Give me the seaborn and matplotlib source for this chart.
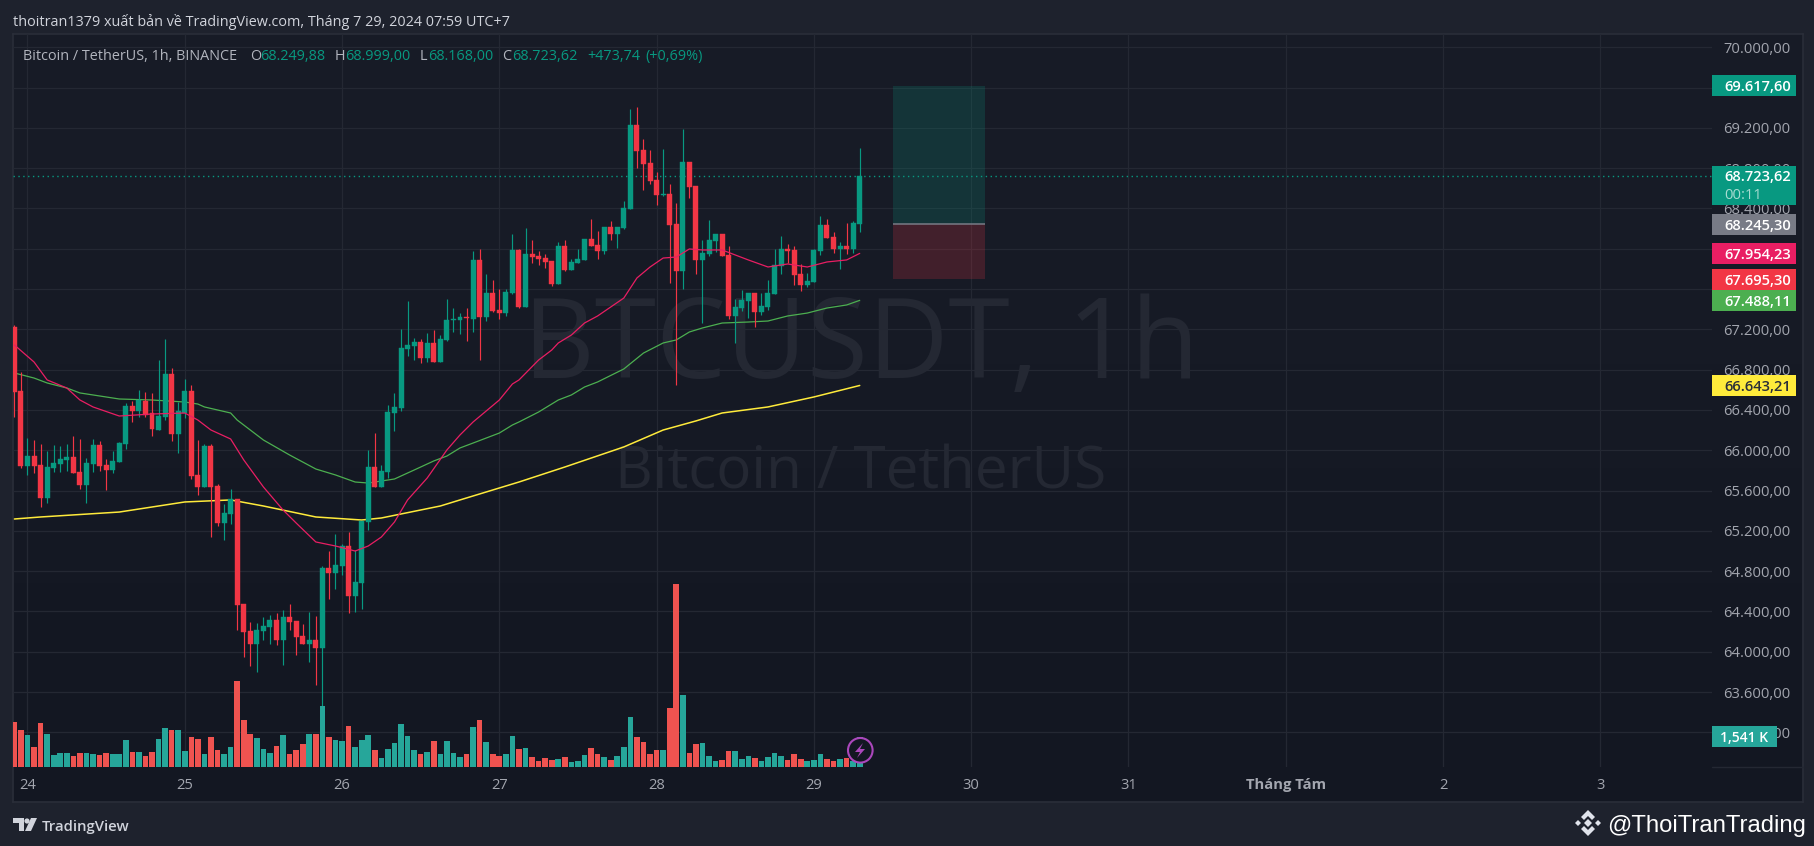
import numpy as np
import pandas as pd
import matplotlib
matplotlib.use("Agg")
import matplotlib.pyplot as plt
import seaborn as sns
from matplotlib.patches import Circle, Polygon, Rectangle
from matplotlib.transforms import Affine2D

# hours counted from 24 July 00:00
HOURS = list(range(-2, 128))

OPEN = [67224, 66588, 65844, 65943, 65854, 65526, 65824, 65864, 65903, 65933,
        65784, 65655, 65864, 66052, 65854, 65804, 65884, 66062, 66439, 66390,
        66489, 66370, 66201, 66330, 66757, 66161, 66370, 66588, 65755, 65636,
        66042, 65646, 65278, 65368, 65517, 64474, 64206, 64077, 64206, 64246,
        64316, 64117, 64345, 64306, 64157, 64077, 64117, 64038, 64831, 64782,
        64851, 65050, 64554, 64683, 65288, 65834, 65636, 65784, 66370, 66420,
        67005, 67035, 67075, 66916, 67065, 66876, 67095, 67293, 67293, 67323,
        67303, 67888, 67323, 67561, 67392, 67362, 67561, 67988, 67422, 67948,
        67928, 67908, 67879, 67650, 68027, 67789, 67859, 67888, 68097, 68037,
        67978, 68216, 68147, 68206, 68395, 69228, 68980, 68851, 68683, 68534,
        68544, 68246, 67779, 68861, 68623, 67888, 67948, 68077, 68147, 67938,
        67333, 67412, 67482, 67561, 67372, 67422, 67551, 67829, 67998, 67988,
        67750, 67640, 67670, 67978, 68236, 68117, 67998, 68027, 67998, 68249.88]
HIGH = [67243, 66777, 66122, 66102, 66062, 65993, 66052, 66042, 66062, 66142,
        66112, 65923, 66112, 66092, 65913, 65993, 66082, 66469, 66489, 66598,
        66578, 66568, 66896, 67104, 66817, 66479, 66707, 66648, 66102, 66062,
        66062, 65665, 65467, 65616, 65517, 64474, 64296, 64286, 64345, 64365,
        64385, 64415, 64474, 64306, 64276, 64395, 64355, 64851, 65000, 65169,
        65070, 65189, 65010, 65298, 66003, 66171, 65854, 66449, 66568, 67204,
        67482, 67114, 67104, 67164, 67194, 67144, 67501, 67412, 67362, 67412,
        67978, 67998, 67750, 67690, 67601, 67601, 68147, 67998, 68206, 68087,
        67978, 67948, 67879, 68067, 68087, 67898, 67998, 68097, 68295, 68176,
        68216, 68276, 68216, 68474, 69387, 69407, 69089, 68980, 68762, 68990,
        68643, 68454, 69189, 68861, 68623, 68087, 68286, 68147, 68147, 68027,
        67501, 67591, 67561, 67561, 67561, 67690, 67998, 68127, 68047, 68027,
        67849, 67760, 67998, 68325, 68295, 68166, 68067, 68256, 68276, 68999]
LOW = [66330, 65824, 65755, 65775, 65437, 65477, 65784, 65784, 65794, 65775,
       65616, 65477, 65784, 65794, 65606, 65775, 65884, 66013, 66281, 66330,
       66330, 66142, 66201, 66300, 66092, 65973, 66320, 65715, 65556, 65636,
       65139, 65248, 65109, 65268, 64216, 63948, 63859, 63799, 64117, 64077,
       64067, 63869, 64216, 63968, 64077, 63898, 63670, 63442, 64524, 64623,
       64762, 64385, 64395, 64425, 65209, 65636, 65636, 65725, 66191, 66390,
       66936, 66896, 66866, 66876, 66876, 66876, 67085, 67174, 67154, 67085,
       67174, 66896, 67283, 67372, 67303, 67333, 67551, 67412, 67422, 67859,
       67839, 67809, 67630, 67650, 67779, 67789, 67859, 67888, 68027, 67898,
       67948, 68087, 68008, 68196, 68395, 68802, 68583, 68643, 68434, 68524,
       67660, 66648, 67601, 68504, 67750, 67263, 67928, 67968, 67928, 67303,
       67065, 67382, 67313, 67224, 67343, 67392, 67551, 67750, 67859, 67640,
       67581, 67620, 67670, 67938, 68107, 67958, 67799, 67948, 67958, 68168]
CLOSE = [66578, 65844, 65943, 65844, 65526, 65834, 65874, 65913, 65933, 65775,
         65655, 65874, 66052, 65844, 65804, 65894, 66072, 66439, 66390, 66499,
         66350, 66211, 66340, 66757, 66161, 66390, 66588, 65745, 65636, 66042,
         65636, 65278, 65378, 65517, 64464, 64196, 64077, 64216, 64256, 64316,
         64117, 64345, 64296, 64147, 64077, 64117, 64038, 64831, 64782, 64861,
         65050, 64554, 64693, 65298, 65834, 65636, 65794, 66380, 66430, 67015,
         67045, 67075, 66916, 67065, 66876, 67105, 67293, 67303, 67323, 67313,
         67888, 67323, 67561, 67382, 67362, 67571, 67988, 67422, 67948, 67918,
         67898, 67869, 67650, 68027, 67789, 67869, 67898, 68097, 68027, 67978,
         68216, 68147, 68216, 68405, 69228, 68970, 68841, 68673, 68534, 68544,
         68236, 67779, 68861, 68613, 67888, 67958, 68087, 68147, 67928, 67333,
         67422, 67492, 67561, 67372, 67432, 67561, 67839, 67998, 67978, 67740,
         67640, 67680, 67988, 68236, 68107, 67998, 68027, 67998, 68256, 68723.62]
VOLUME_K = [2313, 1902, 1645, 1028, 2262, 1696, 617, 720, 720, 565,
            720, 720, 668, 617, 720, 668, 668, 1388, 771, 771,
            565, 771, 1439, 2005, 1902, 1902, 822, 1541, 1439, 668,
            1541, 874, 668, 1028, 4420, 2416, 1696, 1491, 925, 720,
            1079, 1645, 668, 874, 1182, 1696, 1696, 3135, 1541, 1388,
            1336, 2107, 1028, 1388, 1645, 874, 463, 925, 1234, 2210,
            1593, 874, 668, 771, 1336, 668, 1336, 720, 514, 668,
            2056, 2416, 1285, 668, 565, 668, 1593, 925, 977, 514,
            308, 463, 360, 411, 514, 257, 308, 617, 977, 668,
            514, 360, 565, 1028, 2570, 1541, 1285, 668, 874, 874,
            3033, 9406, 3701, 720, 1182, 1234, 565, 308, 360, 822,
            822, 411, 565, 463, 308, 514, 720, 565, 360, 668,
            411, 308, 360, 668, 411, 308, 411, 463, 308, 1541]

MA_FAST_H = [-2, 1, 3, 6, 8, 10, 14, 19, 24, 26, 28, 31, 33, 36, 39, 41, 44, 47, 50, 52,
             54, 56, 58, 61, 64, 66, 68, 72, 74, 75, 78, 80, 81, 83, 85, 87, 91, 93, 95, 97,
             99, 101, 103, 106, 110, 113, 116, 119, 122, 125, 127]
MA_FAST = [67045, 66876, 66698, 66618, 66499, 66430, 66340, 66360, 66370, 66300,
           66201, 66112, 65904, 65636, 65407, 65278, 65090, 65050, 65000, 65050,
           65139, 65288, 65507, 65725, 66003, 66152, 66281, 66499, 66658, 66698,
           66896, 66995, 67065, 67144, 67263, 67333, 67511, 67710, 67819, 67908,
           67918, 67998, 67988, 67988, 67889, 67819, 67849, 67819, 67869, 67889, 67954.23]
MA_MID_H = [-2, 1, 3, 6, 8, 11, 14, 19, 24, 26, 27, 31, 32, 36, 40, 44, 47, 50, 52, 56,
            59, 62, 64, 66, 68, 72, 74, 75, 78, 81, 83, 85, 87, 91, 94, 97, 99, 101, 103,
            106, 110, 113, 116, 119, 122, 125, 127]
MA_MID = [66767, 66717, 66668, 66618, 66569, 66539, 66509, 66499, 66479, 66459,
          66430, 66370, 66300, 66102, 65953, 65814, 65755, 65685, 65675, 65715,
          65804, 65894, 65943, 66023, 66072, 66171, 66251, 66281, 66380, 66499,
          66549, 66628, 66678, 66807, 66965, 67065, 67095, 67174, 67214,
          67263, 67273, 67283, 67333, 67362, 67412, 67442, 67488.11]
MA_SLOW_H = [-2, 2, 14, 19, 24, 31, 36, 44, 51, 54, 63, 66, 75, 82, 91, 97, 102, 106, 113, 120, 127]
MA_SLOW = [65318, 65338, 65387, 65437, 65487, 65507, 65447, 65338, 65308, 65328, 65447,
           65507, 65685, 65834, 66033, 66201, 66291, 66370, 66430, 66529, 66643.21]

PRICE_TICKS = list(range(63200, 70001, 400))
DAY_HOURS = [0, 24, 48, 72, 96, 120, 144, 168, 192, 216, 240]
DAY_LABELS = ["24", "25", "26", "27", "28", "29", "30", "31", "Tháng Tám", "2", "3"]

POS_TOP = 69617.60
POS_ENTRY = 68245.30
POS_STOP = 67695.30
POS_HOURS = (132.1, 146.1)

UP, DOWN = "#089981", "#f23645"
VOL_UP, VOL_DOWN = "#26a69a", "#ef5350"
GRID = "#242833"
MUTED = "#a3a6af"

W, H = 1815, 846
# chart area in pixels, y measured from the top
LEFT, RIGHT, TOP, BOTTOM = 13, 1712, 34, 767
PANE_RIGHT, PANE_BOTTOM = 1803, 802
PER_PX = 9.925  # dollars per pixel


def comma_price(v):
    return f"{v:,.2f}".replace(",", "#").replace(".", ",").replace("#", ".")


sns.set_theme(style="dark")
plt.rcParams["font.family"] = ["Open Sans", "DejaVu Sans"]

fig = plt.figure(figsize=(W / 100, H / 100), dpi=100, facecolor="#1e222d")
px = Affine2D().scale(1, -1).translate(0, H)


def rect_for(l, r, t, b):
    return [l / W, 1 - b / H, (r - l) / W, (b - t) / H]


# pane background
bg = fig.add_axes(rect_for(LEFT, PANE_RIGHT, TOP, PANE_BOTTOM))
shade = np.array([[[0x18, 0x1c, 0x27]], [[0x13, 0x17, 0x22]]], dtype=np.uint8)
bg.imshow(shade, aspect="auto", interpolation="bicubic", extent=(0, 1, 0, 1))
bg.set_xticks([])
bg.set_yticks([])
for s in bg.spines.values():
    s.set_color("#2a2e39")
    s.set_linewidth(1.2)

ax = fig.add_axes(rect_for(LEFT, RIGHT, TOP, BOTTOM), facecolor="none")
ax_vol = fig.add_axes(rect_for(LEFT, RIGHT, TOP, BOTTOM), facecolor="none")

df = pd.DataFrame({"hour": HOURS, "open": OPEN, "high": HIGH, "low": LOW,
                   "close": CLOSE, "volume": VOLUME_K})
df["side"] = np.where(df["close"] >= df["open"], "up", "down")
df["body"] = (df["close"] - df["open"]).abs()
df["base"] = df[["open", "close"]].min(axis=1)
colors = df["side"].map({"up": UP, "down": DOWN})

# watermark
ax.text(861, 349, "BTCUSDT, 1h", transform=px, ha="center", va="center", fontsize=80,
        color="#242833", zorder=1)
ax.text(861, 473, "Bitcoin / TetherUS", transform=px, ha="center", va="center", fontsize=42,
        color="#242833", zorder=1)

# position tool
ax.add_patch(Rectangle((POS_HOURS[0], POS_ENTRY), POS_HOURS[1] - POS_HOURS[0], POS_TOP - POS_ENTRY,
                       facecolor=(8 / 255, 153 / 255, 129 / 255, 0.2), edgecolor="none", zorder=1.6))
ax.add_patch(Rectangle((POS_HOURS[0], POS_STOP), POS_HOURS[1] - POS_HOURS[0], POS_ENTRY - POS_STOP,
                       facecolor=(242 / 255, 54 / 255, 69 / 255, 0.2), edgecolor="none", zorder=1.6))
ax.hlines(POS_ENTRY, *POS_HOURS, color="#787b86", lw=1.1, zorder=1.7)

# last price line
ax.axhline(CLOSE[-1], color=UP, lw=1, ls=(0, (1, 2.5)), zorder=1.8)

# moving averages
sns.lineplot(x=MA_MID_H, y=MA_MID, ax=ax, color="#4caf50", lw=0.9, zorder=2, errorbar=None)
sns.lineplot(x=MA_SLOW_H, y=MA_SLOW, ax=ax, color="#ffeb3b", lw=1.1, zorder=2, errorbar=None)

# candles
ax.vlines(df["hour"], df["low"], df["high"], colors=colors, lw=0.85, zorder=3)
ax.bar(df["hour"], df["body"], bottom=df["base"], width=0.76, color=colors,
       edgecolor=colors, linewidth=0.3, zorder=3.1)
sns.lineplot(x=MA_FAST_H, y=MA_FAST, ax=ax, color="#e91e63", lw=0.9, zorder=3.2, errorbar=None)

# volume
sns.barplot(data=df, x="hour", y="volume", hue="side", ax=ax_vol, native_scale=True, dodge=False,
            palette={"up": VOL_UP, "down": VOL_DOWN}, width=0.86, saturation=1,
            errorbar=None, legend=False, linewidth=0)
ax_vol.set_xlim((LEFT - 27.5) / 6.553, (RIGHT - 27.5) / 6.553)
ax_vol.set_ylim(0, (BOTTOM - TOP) * 1541 / 30)
ax_vol.axis("off")

ax.set_xlim((LEFT - 27.5) / 6.553, (RIGHT - 27.5) / 6.553)
ax.set_ylim(70469 - PER_PX * BOTTOM, 70469 - PER_PX * TOP)
ax.set_xlabel("")
ax.set_ylabel("")
ax.set_xticks(DAY_HOURS, DAY_LABELS)
ax.set_yticks(PRICE_TICKS, [comma_price(v) for v in PRICE_TICKS])
ax.yaxis.tick_right()
ax.tick_params(axis="y", length=0, pad=8, labelsize=10.6, labelcolor=MUTED)
ax.tick_params(axis="x", length=0, pad=8, labelsize=10.6, labelcolor=MUTED)
for lab in ax.get_xticklabels():
    if lab.get_text() == "Tháng Tám":
        lab.set_fontweight("bold")
ax.grid(True, color=GRID, lw=0.9)
ax.set_axisbelow(True)
for s in ax.spines.values():
    s.set_visible(False)

# price labels on the right axis
trans = ax.get_yaxis_transform()
frac = lambda p: (p - LEFT) / (RIGHT - LEFT)
LABELS = [(69617.60, UP, "white"), (68245.30, "#787b86", "white"), (67954.23, "#e91e63", "white"),
          (67695.30, DOWN, "white"), (67488.11, "#4caf50", "white"), (66643.21, "#ffeb3b", "#2a2e39")]
for price, bg_c, fg in LABELS:
    ax.add_patch(Rectangle((1, price - 10.5 * PER_PX), frac(1796) - 1, 21 * PER_PX, transform=trans,
                           facecolor=bg_c, edgecolor="none", clip_on=False, zorder=6))
    ax.text(frac(1724), price, comma_price(price), transform=trans, va="center_baseline", ha="left",
            fontsize=10.6, color=fg, clip_on=False, zorder=7, fontweight="semibold")
# current price box, with the countdown under it
ax.add_patch(Rectangle((1, CLOSE[-1] - 29 * PER_PX), frac(1796) - 1, 39 * PER_PX, transform=trans,
                       facecolor=UP, edgecolor="none", clip_on=False, zorder=6))
ax.text(frac(1724), CLOSE[-1], comma_price(CLOSE[-1]), transform=trans, va="center_baseline",
        fontsize=10.6, color="white", clip_on=False, zorder=7, fontweight="semibold")
ax.text(frac(1724), CLOSE[-1] - 18 * PER_PX, "00:11", transform=trans, va="center_baseline",
        fontsize=10.6, color="#a8dcd2", clip_on=False, zorder=7)
# volume label
fig.add_artist(Rectangle((1712, 726), 65, 21, transform=px, facecolor=VOL_UP, edgecolor="none", zorder=8))
fig.text(1744.5, 736.5, "1,541 K", transform=px, ha="center", va="center_baseline", fontsize=10,
         color="white", zorder=9, fontweight="semibold")
fig.add_artist(plt.Line2D([1712, 1803], [767, 767], transform=px, color=GRID, lw=1, zorder=3))

# header and legend
fig.text(13, 20, "thoitran1379 xuất bản về TradingView.com, Tháng 7 29, 2024 07:59 UTC+7", transform=px,
         va="center_baseline", fontsize=10.4, color="#d1d4dc")
LEGEND = [(23, "Bitcoin / TetherUS, 1h, BINANCE", "#b2b5be"), (250, "O", "#b2b5be"), (260, "68.249,88", UP),
          (335, "H", "#b2b5be"), (345, "68.999,00", UP), (420, "L", "#b2b5be"), (428, "68.168,00", UP),
          (502, "C", "#b2b5be"), (512, "68.723,62", UP), (587, "+473,74", UP), (645, "(+0,69%)", UP)]
for x0, txt, col in LEGEND:
    fig.text(x0, 54, txt, transform=px, va="center_baseline", fontsize=10.4, color=col, zorder=9)

# lightning badge on the last bars
fig.add_artist(Circle((860.3, 750.3), 12.3, transform=px, facecolor="#131722", edgecolor="#ab47bc",
                      linewidth=1.5, zorder=8, alpha=1))
fig.add_artist(Polygon([(863, 743), (855, 752), (860, 752), (857, 758), (865, 749), (860, 749)],
                       transform=px, facecolor="#ab47bc", edgecolor="none", zorder=9))

# footer logos
logo = "#d1d4dc"
fig.add_artist(Polygon([(13, 818), (24, 818), (24, 831), (19, 831), (19, 823), (13, 823)], transform=px,
                       facecolor=logo, edgecolor="none", zorder=9))
fig.add_artist(Circle((27, 821), 2.6, transform=px, facecolor=logo, edgecolor="none", zorder=9))
fig.add_artist(Polygon([(31, 818), (37, 818), (31, 831), (25, 831)], transform=px, facecolor=logo,
                       edgecolor="none", zorder=9))
fig.text(42, 825, "TradingView", transform=px, va="center_baseline", fontsize=10.7, color=logo,
         fontweight="semibold")
fig.text(1607, 823, "@ThoiTranTrading", transform=px, va="center_baseline", fontsize=17.2, color="white",
         family="Liberation Sans")
bnb = "#e0e3eb"
for pts in [[(1588, 810), (1595, 817), (1592, 820), (1588, 816), (1584, 820), (1581, 817)],
            [(1588, 836), (1595, 829), (1592, 826), (1588, 830), (1584, 826), (1581, 829)],
            [(1588, 819), (1592, 823), (1588, 827), (1584, 823)],
            [(1578, 820), (1581, 823), (1578, 826), (1575, 823)],
            [(1598, 820), (1601, 823), (1598, 826), (1595, 823)]]:
    fig.add_artist(Polygon(pts, transform=px, facecolor=bnb, edgecolor="none", zorder=9))

fig.savefig("out.png", dpi=100, facecolor=fig.get_facecolor())
